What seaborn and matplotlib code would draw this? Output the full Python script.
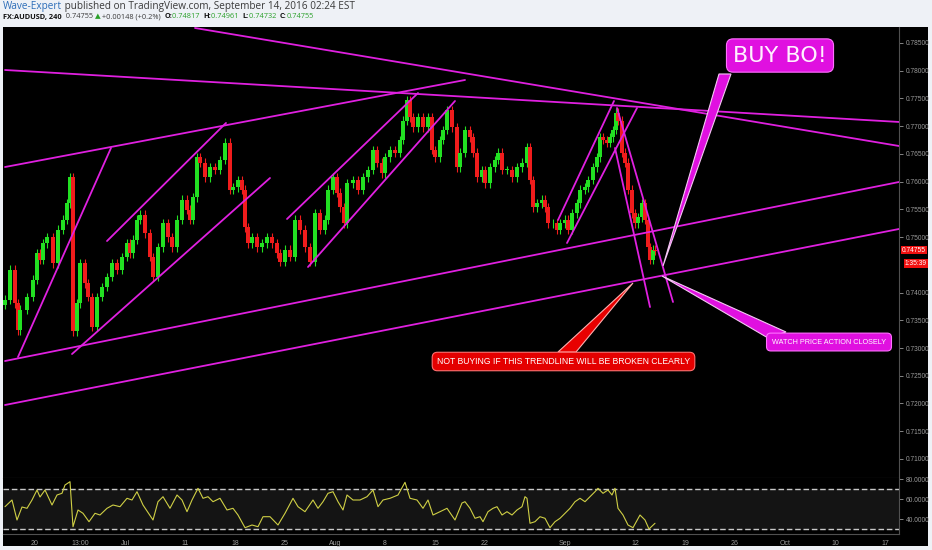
import numpy as np
import matplotlib
matplotlib.use("Agg")
import matplotlib.pyplot as plt
import seaborn as sns
from matplotlib.patches import Rectangle, Polygon
from matplotlib.transforms import blended_transform_factory

# ---------------- data (time in trading days since Mon Jun 20 2016) ----------------
candle_t = [-3.0, -2.5, -2.0, -1.7, -1.5, -0.8, -0.2, 0.2, 0.5, 0.8, 1.2, 1.8, 2.3, 2.8, 3.2, 3.5, 3.8,
            4.2, 4.5, 5.0, 5.3, 5.7, 6.2, 6.7, 7.2, 7.7, 8.2, 8.7, 9.2, 9.5, 9.8, 10.2, 10.5, 11.0,
            11.5, 11.8, 12.3, 12.8, 13.3, 13.7, 14.2, 14.7, 15.2, 15.5, 15.8, 16.2, 16.5, 17.0, 17.5,
            18.0, 18.5, 19.0, 19.5,
            19.8, 20.3, 20.7, 21.0, 21.3, 21.7, 22.2, 22.7, 23.2, 23.7, 24.2, 24.5, 25.0, 25.5, 26.0,
            26.5, 27.0, 27.5, 28.0, 28.5, 29.0, 29.3, 29.8, 30.2, 30.5, 30.9, 31.2, 31.8, 32.3, 32.8,
            33.3, 33.8, 34.2, 34.7, 35.0, 35.5, 36.0, 36.5, 36.8, 37.2, 37.5, 37.8, 38.3, 38.8, 39.3,
            39.7, 40.0, 40.5,
            40.8, 41.2, 41.7, 42.2, 42.5, 43.0, 43.5, 43.8, 44.2, 44.7, 45.0, 45.5, 46.0, 46.3, 46.7,
            47.2, 47.7, 48.2, 48.7, 49.2, 49.5, 49.8, 50.2, 50.7, 51.0, 51.3, 51.8, 52.2, 52.5, 53.0,
            53.3, 53.7, 54.2, 54.5, 55.0, 55.3, 55.8, 56.2, 56.5, 56.8, 57.2, 57.5, 57.8, 58.1, 58.3,
            58.7, 59.0, 59.3, 59.7, 60.0, 60.3, 60.7, 61.0, 61.3, 61.5, 61.8, 62.0]
closes = [0.7387, 0.7441, 0.7381, 0.7332, 0.7369, 0.7392, 0.7423, 0.7471, 0.7459, 0.7489, 0.7500,
          0.7453, 0.7513, 0.7531, 0.7561, 0.7608, 0.7330, 0.7381, 0.7453, 0.7417, 0.7392, 0.7338,
          0.7392, 0.7410, 0.7428, 0.7453, 0.7441, 0.7464, 0.7489, 0.7471, 0.7495, 0.7531, 0.7540,
          0.7507, 0.7464, 0.7428, 0.7482, 0.7525, 0.7500, 0.7482, 0.7531, 0.7567, 0.7549, 0.7531,
          0.7572, 0.7644, 0.7634, 0.7608, 0.7626, 0.7621, 0.7639, 0.7670, 0.7585,
          0.7590, 0.7603, 0.7585, 0.7518, 0.7489, 0.7500, 0.7482, 0.7489, 0.7500, 0.7489, 0.7471,
          0.7455, 0.7477, 0.7464, 0.7531, 0.7513, 0.7482, 0.7455, 0.7543, 0.7513, 0.7531, 0.7585,
          0.7608, 0.7580, 0.7554, 0.7525, 0.7597, 0.7603, 0.7585, 0.7608, 0.7621, 0.7657, 0.7634,
          0.7615, 0.7644, 0.7657, 0.7652, 0.7675, 0.7710, 0.7747, 0.7716, 0.7698, 0.7716, 0.7698,
          0.7716, 0.7657, 0.7644, 0.7675,
          0.7693, 0.7729, 0.7698, 0.7626, 0.7652, 0.7693, 0.7680, 0.7652, 0.7608, 0.7621, 0.7597,
          0.7626, 0.7639, 0.7652, 0.7621, 0.7621, 0.7608, 0.7626, 0.7634, 0.7662, 0.7603, 0.7554,
          0.7561, 0.7567, 0.7554, 0.7525, 0.7525, 0.7513, 0.7525, 0.7531, 0.7513, 0.7543, 0.7561,
          0.7585, 0.7590, 0.7603, 0.7626, 0.7644, 0.7680, 0.7675, 0.7670, 0.7680, 0.7693, 0.7724,
          0.7710, 0.7652, 0.7634, 0.7585, 0.7543, 0.7525, 0.7536, 0.7561, 0.7531, 0.7482, 0.7459,
          0.7477, 0.74755]
first_open = 0.7378
last_price = 0.74755

rsi_t = [-3.0, -2.3, -1.8, -1.3, -0.8, -0.3, 0.2, 0.5, 1.0, 1.7, 2.2, 2.7, 3.0, 3.5, 3.8, 4.3, 4.8,
         5.4, 6.0, 6.5, 7.2, 7.8, 8.5, 9.2, 9.7, 10.2, 10.8, 11.8, 12.3, 12.8, 13.5, 14.2, 14.7,
         15.2, 15.7, 16.3, 16.8, 17.3, 17.8, 18.5, 19.2, 19.8, 20.3, 21.0, 21.7, 22.3, 22.8, 23.5,
         24.3, 25.0, 25.8, 26.3, 27.0, 27.8, 28.3, 28.8, 29.3, 29.8, 30.3, 30.8, 31.2, 31.8, 32.5,
         33.2, 33.8, 34.3, 34.8, 35.5, 36.3, 37.0, 37.5, 38.2, 38.8, 39.3, 39.8, 40.5, 41.2, 42.0,
         42.7, 43.0, 43.5, 44.0, 44.5, 44.8, 45.3, 45.8, 46.2, 46.7, 47.2, 47.7, 48.2, 48.7, 49.0,
         49.2, 49.5, 50.0, 50.5, 51.0, 51.5, 52.0, 52.5, 53.0, 53.5, 54.0, 54.5, 55.0, 55.5, 56.0,
         56.3, 56.8, 57.3, 57.7, 58.0, 58.3, 58.8, 59.3, 59.8, 60.5, 61.0, 61.4, 62.0]
rsi_v = [52.3, 59, 39, 52, 50.7, 59, 69, 62, 69, 54, 64, 65.7, 74, 77.3, 32.3, 49, 45.7, 37.3, 45.7,
         44, 50.7, 54, 52.3, 60.7, 59, 67.3, 54, 39, 57.3, 62.3, 50.7, 64, 59, 47.3, 59, 70.7, 60.7,
         62.3, 57.3, 60.7, 49, 50.7, 44, 31.3, 34, 32.3, 42.3, 42.3, 34, 45.7, 60.7, 52.3, 47.3, 59,
         50.7, 57.3, 65.7, 67.3, 57.3, 49, 64, 59, 59, 62.3, 69, 52.3, 59, 60.7, 64, 76.7, 60.7, 59,
         50.7, 59, 44, 47.3, 50.7, 39, 56, 57.3, 50.7, 40.7, 42.3, 37.3, 47.3, 50.7, 52.3, 44, 47.3,
         44, 49, 52.3, 62.3, 60.7, 35.7, 37.3, 42.3, 40.7, 31.3, 37.3, 40.7, 45.7, 50.7, 57.3, 60.7,
         57.3, 62.3, 67.3, 70.7, 65.7, 69, 64, 70.7, 50.7, 44, 34, 31.3, 44, 39, 30, 35.7]

# trend lines drawn on the chart: ((t0, p0), (t1, p1))
trendlines = [
    ((-3.0, 0.78012), (86.4, 0.77075)),
    ((-3.0, 0.76263), (43.0, 0.77832)),
    ((16.0, 0.78769), (86.4, 0.76642)),
    ((-3.0, 0.72766), (86.4, 0.75993)),
    ((-3.0, 0.71973), (86.4, 0.75146)),
    ((-1.7, 0.72838), (7.6, 0.76606)),
    ((7.2, 0.74929), (19.1, 0.77057)),
    ((3.7, 0.72892), (23.5, 0.76065)),
    ((25.2, 0.75326), (38.3, 0.77597)),
    ((27.3, 0.74461), (42.0, 0.77453)),
    ((52.3, 0.75308), (57.9, 0.77453)),
    ((53.2, 0.74893), (60.2, 0.77327)),
    ((58.0, 0.76606), (61.5, 0.73739)),
    ((58.2, 0.77327), (63.8, 0.73830)),
]

date_ticks = [0, 4.55, 9, 15, 20, 25, 30, 35, 40, 45, 53, 60, 65, 70, 75, 80, 85]
date_labels = ["20", "13:00", "Jul", "11", "18", "25", "Aug", "8", "15", "22", "Sep", "12",
               "19", "26", "Oct", "10", "17"]
# 0.74500 is covered by the last-price labels in the reference
price_ticks = [0.710, 0.715, 0.720, 0.725, 0.730, 0.735, 0.740, 0.750, 0.755, 0.760,
               0.765, 0.770, 0.775, 0.780, 0.785]
rsi_ticks = [40, 60, 80]
countdown = "1:35:39"

# callouts
buy_text, buy_pos = "BUY BO!", (74.5, 0.78273)
buy_wedge = [(68.4, 0.77940), (69.6, 0.77940), (62.8, 0.74479)]
watch_text, watch_pos = "WATCH PRICE ACTION CLOSELY", (79.4, 0.73108)
watch_wedge = [(62.7, 0.74298), (73.3, 0.73181), (75.1, 0.73289)]
red_text, red_pos = "NOT BUYING IF THIS TRENDLINE WILL BE BROKEN CLEARLY", (52.85, 0.72757)
red_wedge = [(59.8, 0.74172), (52.3, 0.72928), (54.1, 0.72928)]

# ---------------- figure ----------------
sns.set_theme(style="dark")
plt.rcParams["font.family"] = ["Liberation Sans", "DejaVu Sans"]

W, H = 932, 550
fig = plt.figure(figsize=(W / 100, H / 100), dpi=100, facecolor="#eef1f6")
fig.add_artist(Rectangle((3 / W, 4 / H), 925 / W, 519 / H, transform=fig.transFigure,
                         facecolor="black", edgecolor="none", zorder=0))

ax = fig.add_axes([3 / W, 72 / H, 896 / W, 451 / H], facecolor="black")
ax2 = fig.add_axes([3 / W, 16 / H, 896 / W, 56 / H], facecolor="black", sharex=ax)

GREEN, RED, MAG = "#22e022", "#f01c1c", "#e020e0"
GRAY = "#9a9a9a"

# candles
c = np.array(closes)
t = np.array(candle_t)
o = np.r_[first_open, c[:-1]]
wick = 0.0008
hi = np.maximum(o, c) + wick
lo = np.minimum(o, c) - wick
cols = np.where(c >= o, GREEN, RED)
ax.vlines(t, lo, hi, colors=cols, lw=0.8, zorder=2)
ax.bar(t, np.maximum(np.abs(c - o), 0.0001), bottom=np.minimum(o, c), width=0.33,
       color=cols, linewidth=0, zorder=3)

for (t0, p0), (t1, p1) in trendlines:
    ax.plot([t0, t1], [p0, p1], color=MAG, lw=1.3, zorder=4, solid_capstyle="round")

# callout wedges and boxes
ax.add_patch(Polygon(buy_wedge, closed=True, facecolor="#e010e0", edgecolor="#f4c8f4",
                     lw=0.8, zorder=5))
ax.add_patch(Polygon(watch_wedge, closed=True, facecolor="#e010e0", edgecolor="#f4c8f4",
                     lw=0.8, zorder=5))
ax.add_patch(Polygon(red_wedge, closed=True, facecolor="#e80000", edgecolor="#ffb0b0",
                     lw=0.8, zorder=5))
ax.text(*buy_pos, buy_text, ha="center", va="center", fontsize=16, color="#fff0ff",
        family=["DejaVu Sans"], zorder=6,
        bbox=dict(boxstyle="round,pad=0.3,rounding_size=0.3", facecolor="#e010e0",
                  edgecolor="#ff70ff", lw=0.8))
ax.text(*watch_pos, watch_text, ha="center", va="center", fontsize=5.2, color="white",
        zorder=6, bbox=dict(boxstyle="round,pad=0.75,rounding_size=0.6", facecolor="#e010e0",
                            edgecolor="#ff70ff", lw=0.8))
ax.text(*red_pos, red_text, ha="center", va="center", fontsize=6.2, color="white",
        zorder=6, bbox=dict(boxstyle="round,pad=0.55,rounding_size=0.6", facecolor="#e40000",
                            edgecolor="#ff7070", lw=0.8))

ax.set_xlim(-3.2, 86.4)
ax.set_ylim(0.70657, 0.78787)
ax.yaxis.tick_right()
ax.set_yticks(price_ticks)
ax.set_yticklabels([f"{p:.5f}" for p in price_ticks])
ax.tick_params(axis="y", colors=GRAY, labelsize=4.8, length=3, pad=2, width=0.6)
ax.tick_params(axis="x", bottom=False, labelbottom=False)
ax.grid(False)
for s in ["top", "left"]:
    ax.spines[s].set_visible(False)
for s in ["right", "bottom"]:
    ax.spines[s].set_color("#505050")
    ax.spines[s].set_linewidth(0.8)

# last price labels
tr = blended_transform_factory(ax.transAxes, ax.transData)
ax.text(1.0035, last_price + 0.0001, f"{last_price:.5f}", transform=tr, ha="left",
        va="center", fontsize=4.8, color="white", clip_on=False, zorder=10,
        bbox=dict(boxstyle="square,pad=0.12", facecolor="#f01010", edgecolor="none"))
ax.text(1.0065, 0.7452, countdown, transform=tr, ha="left", va="center",
        fontsize=4.8, color="white", clip_on=False, zorder=10,
        bbox=dict(boxstyle="square,pad=0.12", facecolor="#f01010", edgecolor="none"))

# RSI panel
ax2.axhspan(30, 70, color="#141414", zorder=0)
for lvl in (70, 30):
    ax2.axhline(lvl, color="#c8c8c8", lw=1.0, ls=(0, (4, 2)), zorder=1)
sns.lineplot(x=rsi_t, y=rsi_v, ax=ax2, color="#cfcf45", lw=0.8, estimator=None, zorder=3)
ax2.set_ylim(25, 81)
ax2.yaxis.tick_right()
ax2.set_yticks(rsi_ticks)
ax2.set_yticklabels([f"{v:.4f}" for v in rsi_ticks])
ax2.tick_params(axis="y", colors=GRAY, labelsize=4.8, length=3, pad=2, width=0.6)
ax2.set_xticks(date_ticks)
ax2.set_xticklabels(date_labels)
ax2.tick_params(axis="x", colors=GRAY, labelsize=5, length=2, pad=2, width=0.6)
ax2.set_xlabel("")
ax2.set_ylabel("")
ax2.grid(False)
for s in ["top", "left"]:
    ax2.spines[s].set_visible(False)
for s in ["right", "bottom"]:
    ax2.spines[s].set_color("#505050")
    ax2.spines[s].set_linewidth(0.8)

# header
HF = ["Open Sans", "DejaVu Sans"]


def chain(parts, x, y, fs):
    txt, col, wt = parts[0]
    prev = ax.annotate(txt, xy=(x, y), xycoords="figure fraction", ha="left", va="center",
                       fontsize=fs, color=col, fontweight=wt, family=HF, annotation_clip=False)
    for txt, col, wt in parts[1:]:
        prev = ax.annotate(txt, xy=(1, 0.5), xycoords=prev, ha="left", va="center",
                           fontsize=fs, color=col, fontweight=wt, family=HF,
                           annotation_clip=False)


DARK = "#3a3a3a"
G2 = "#2aa02a"
chain([("Wave-Expert", "#2c6db8", "normal"),
       (" published on TradingView.com, September 14, 2016 02:24 EST", DARK, "normal")],
      3 / W, 1 - 7 / H, 7.2)
chain([("FX:AUDUSD, 240", "#111111", "bold"), ("  0.74755 ", DARK, "normal"),
       ("▲", G2, "normal"), (" +0.00148 (+0.2%)  ", DARK, "normal"),
       ("O:", "#111111", "bold"), ("0.74817  ", G2, "normal"),
       ("H:", "#111111", "bold"), ("0.74961  ", G2, "normal"),
       ("L:", "#111111", "bold"), ("0.74732  ", G2, "normal"),
       ("C:", "#111111", "bold"), ("0.74755", G2, "normal")],
      3 / W, 1 - 17 / H, 5.3)

fig.savefig("out.png", dpi=100, facecolor=fig.get_facecolor())
